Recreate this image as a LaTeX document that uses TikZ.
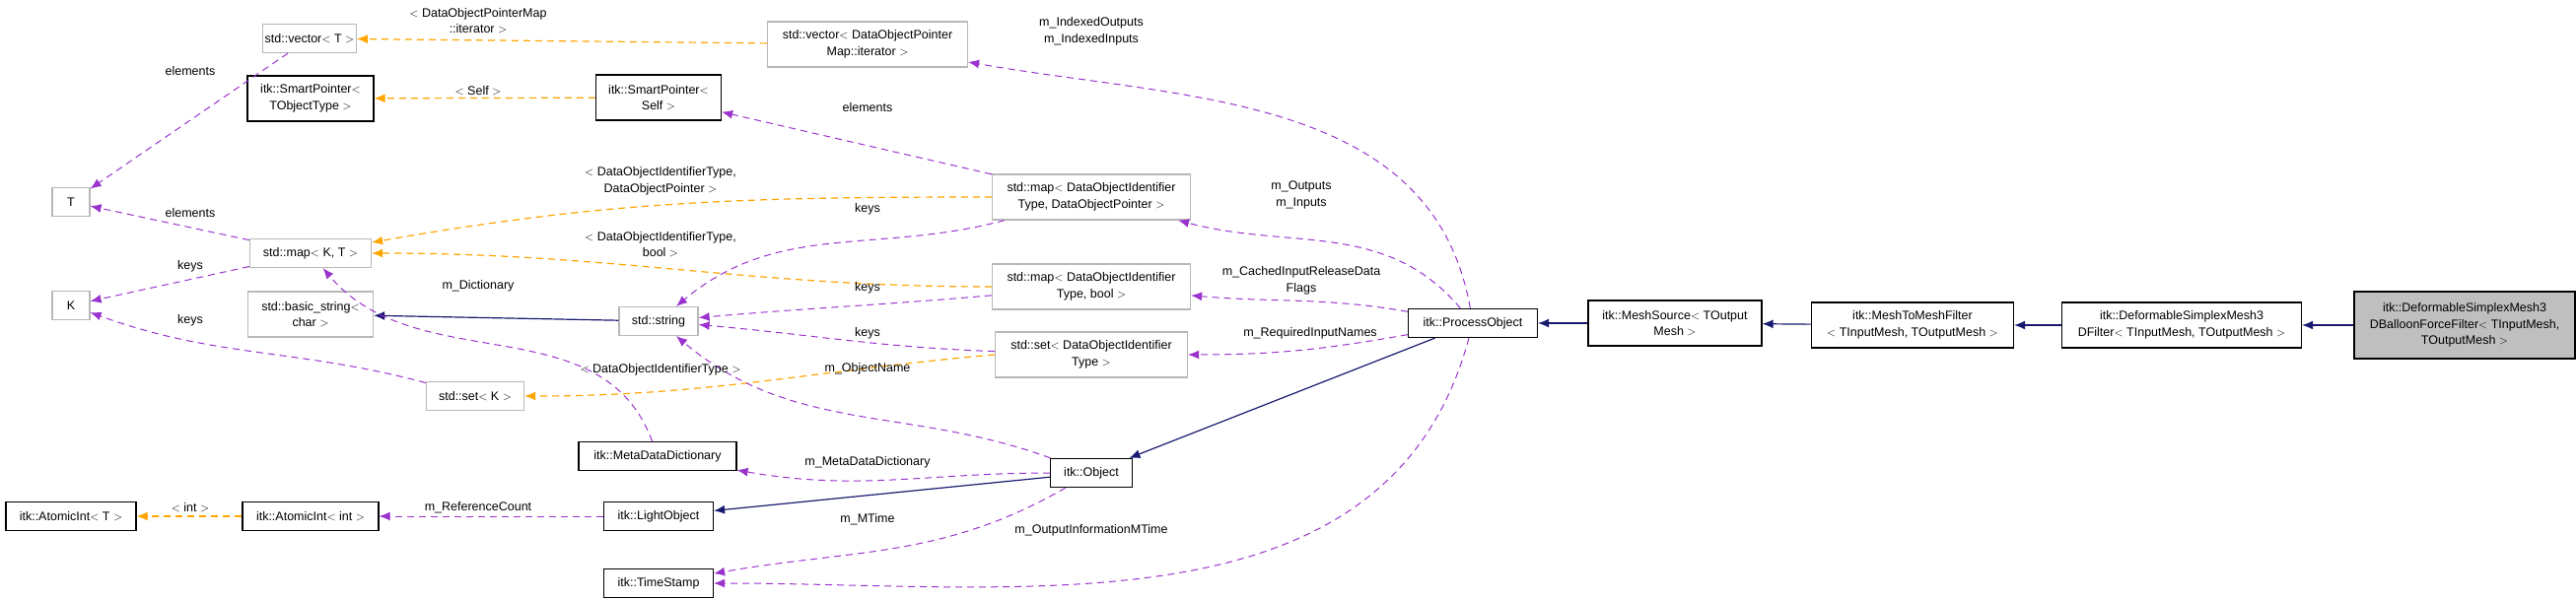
\documentclass[tikz,border=0pt]{standalone}
\usepackage{fontspec}
\setmainfont{Liberation Sans}
\usetikzlibrary{arrows.meta}
\definecolor{usecol}{HTML}{9A32CD}
\definecolor{tplcol}{HTML}{FFA500}
\definecolor{inhcol}{HTML}{191970}
\tikzset{
  cls/.style={draw=black,line width=1.2pt,fill=white,align=center,inner sep=2pt,minimum height=29pt,font=\fontsize{12.5}{16.5}\selectfont},
  ext/.style={cls,draw=black!28},
  big/.style={minimum height=46pt},
  lbl/.style={align=center,font=\fontsize{12.5}{16.5}\selectfont,inner sep=0pt},
  use/.style={draw=usecol,dashed,dash pattern=on 7pt off 5pt,line width=1pt,-{Latex[length=11pt,width=9pt]}},
  tpl/.style={draw=tplcol,dashed,dash pattern=on 7pt off 5pt,line width=1.2pt,-{Latex[length=11pt,width=9pt]}},
  inh/.style={draw=inhcol,line width=1.2pt,-{Latex[length=11pt,width=9pt]}}
}
\begin{document}
\begin{tikzpicture}[x=1pt,y=-1pt]
  \useasboundingbox (0,0) rectangle (2613,609);
  % left columns
  \node[ext,minimum width=62pt] (vecT) at (314,39) {std::vector$<$ T $>$};
  \node[cls,big,minimum width=128pt] (spTO) at (315,100) {itk::SmartPointer$<$\\TObjectType $>$};
  \node[ext,minimum width=38pt] (T) at (72,205) {T};
  \node[ext,minimum width=123pt] (mapKT) at (315,257) {std::map$<$ K, T $>$};
  \node[ext,minimum width=38pt] (K) at (72,310) {K};
  \node[ext,big,minimum width=127pt] (bstr) at (315,319) {std::basic\_string$<$\\char $>$};
  \node[ext,minimum width=99pt] (setK) at (482,402) {std::set$<$ K $>$};
  \node[cls,minimum width=132pt] (atomT) at (72,524) {itk::AtomicInt$<$ T $>$};
  \node[cls,minimum width=138pt] (atomInt) at (315,524) {itk::AtomicInt$<$ int $>$};
  % middle columns
  \node[cls,big,minimum width=127pt] (spSelf) at (668,99) {itk::SmartPointer$<$\\Self $>$};
  \node[ext,minimum width=80pt] (str) at (668,326) {std::string};
  \node[cls,minimum width=160pt] (mdd) at (667,463) {itk::MetaDataDictionary};
  \node[cls,minimum width=111pt] (light) at (668,524) {itk::LightObject};
  \node[cls,minimum width=111pt] (stamp) at (668,592) {itk::TimeStamp};
  \node[ext,big,minimum width=203pt] (vecIt) at (880,45) {std::vector$<$ DataObjectPointer\\Map::iterator $>$};
  \node[ext,big,minimum width=201pt] (mapPtr) at (1107,200) {std::map$<$ DataObjectIdentifier\\Type, DataObjectPointer $>$};
  \node[ext,big,minimum width=201pt] (mapBool) at (1107,291) {std::map$<$ DataObjectIdentifier\\Type, bool $>$};
  \node[ext,big,minimum width=195pt] (setId) at (1107,360) {std::set$<$ DataObjectIdentifier\\Type $>$};
  \node[cls,minimum width=83pt] (obj) at (1107,480) {itk::Object};
  % right chain
  \node[cls,minimum width=131pt] (proc) at (1494,328) {itk::ProcessObject};
  \node[cls,big,minimum width=176pt] (src) at (1699,328) {itk::MeshSource$<$ TOutput\\Mesh $>$};
  \node[cls,big,minimum width=205pt] (m2m) at (1940,330) {itk::MeshToMeshFilter\\$<$ TInputMesh, TOutputMesh $>$};
  \node[cls,big,minimum width=243pt] (dsm) at (2213,330) {itk::DeformableSimplexMesh3\\DFilter$<$ TInputMesh, TOutputMesh $>$};
  \node[cls,fill=black!25,minimum width=224pt,minimum height=68pt] (balloon) at (2500,330) {itk::DeformableSimplexMesh3\\DBalloonForceFilter$<$ TInputMesh,\\TOutputMesh $>$};

  % inheritance
  \draw[inh] (balloon) -- (dsm);
  \draw[inh] (dsm) -- (m2m);
  \draw[inh] (m2m) -- (src);
  \draw[inh] (src) -- (proc);
  \draw[inh] (proc) -- (obj);
  \draw[inh] (obj) -- (light);
  \draw[inh] (str) -- (bstr);

  % template instances
  \draw[tpl] (vecIt) -- (vecT);
  \draw[tpl] (spSelf) -- (spTO);
  \draw[tpl] (mapPtr.west) to[out=180,in=10] (mapKT);
  \draw[tpl] (mapBool.west) to[out=180,in=0] (mapKT);
  \draw[tpl] (setId.west) to[out=185,in=0] (setK);
  \draw[tpl] (atomInt) -- (atomT);

  % members
  \draw[use] (vecT) -- (T);
  \draw[use] (mapKT) -- (T);
  \draw[use] (mapKT) -- (K);
  \draw[use] (setK) to[out=165,in=-20] (K);
  \draw[use] (mdd) to[out=110,in=-50] (mapKT);
  \draw[use] (mapPtr) -- (spSelf);
  \draw[use] (mapPtr) to[out=195,in=40] (str);
  \draw[use] (mapBool) to[out=185,in=5] (str);
  \draw[use] (setId) to[out=178,in=-5] (str);
  \draw[use] (obj) to[out=160,in=-40] (str);
  \draw[use] (obj) to[out=180,in=-10] (mdd);
  \draw[use] (light) -- (atomInt);
  \draw[use] (obj) to[out=-150,in=10] (stamp);
  \draw[use] (proc) to[out=-105,in=0] (stamp.east);
  \draw[use] (proc) to[out=100,in=-10] (vecIt);
  \draw[use] (proc) to[out=130,in=-15] (mapPtr);
  \draw[use] (proc) to[out=170,in=-5] (mapBool);
  \draw[use] (proc) to[out=-170,in=0] (setId);

  % labels
  \node[lbl] (lIt) at (485,21) {$<$ DataObjectPointerMap\\::iterator $>$};
  \node[lbl] (lSelf) at (485,92) {$<$ Self $>$};
  \node[lbl] (lEl1) at (193,72) {elements};
  \node[lbl] (lEl2) at (193,216) {elements};
  \node[lbl] (lKey1) at (193,270) {keys};
  \node[lbl] (lKey2) at (193,325) {keys};
  \node[lbl] (lPtr) at (670,184) {$<$ DataObjectIdentifierType,\\DataObjectPointer $>$};
  \node[lbl] (lBool) at (670,248) {$<$ DataObjectIdentifierType,\\bool $>$};
  \node[lbl] (lSet) at (670,375) {$<$ DataObjectIdentifierType $>$};
  \node[lbl] (lDict) at (485,290) {m\_Dictionary};
  \node[lbl] (lEl3) at (880,109) {elements};
  \node[lbl] (lKey3) at (880,212) {keys};
  \node[lbl] (lKey4) at (880,292) {keys};
  \node[lbl] (lKey5) at (880,338) {keys};
  \node[lbl] (lName) at (880,374) {m\_ObjectName};
  \node[lbl] (lMdd) at (880,469) {m\_MetaDataDictionary};
  \node[lbl] (lRef) at (485,515) {m\_ReferenceCount};
  \node[lbl] (lInt) at (193,515) {$<$ int $>$};
  \node[lbl] (lMT) at (880,527) {m\_MTime};
  \node[lbl] (lOut) at (1107,538) {m\_OutputInformationMTime};
  \node[lbl] (lIdx) at (1107,32) {m\_IndexedOutputs\\m\_IndexedInputs};
  \node[lbl] (lIO) at (1320,198) {m\_Outputs\\m\_Inputs};
  \node[lbl] (lCache) at (1320,285) {m\_CachedInputReleaseData\\Flags};
  \node[lbl] (lReq) at (1329,338) {m\_RequiredInputNames};
\end{tikzpicture}
\end{document}
